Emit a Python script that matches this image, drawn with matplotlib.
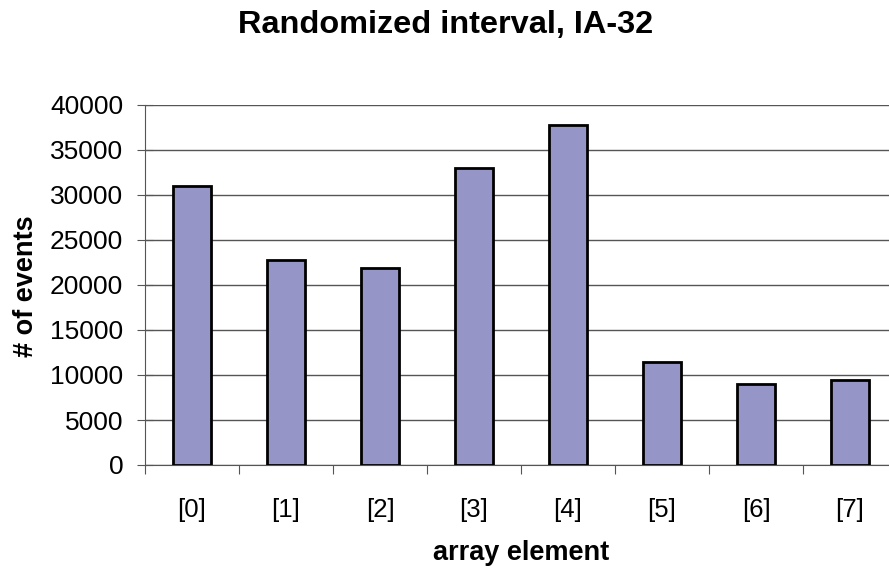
import matplotlib
matplotlib.use('Agg')
import matplotlib.pyplot as plt

# counts per array slot
elementos = ['[0]', '[1]', '[2]', '[3]', '[4]', '[5]', '[6]', '[7]']
eventos = [31000, 22800, 21900, 33000, 37800, 11500, 9000, 9400]
y_ticks = [0, 5000, 10000, 15000, 20000, 25000, 30000, 35000, 40000]

plt.rcParams['font.family'] = ['Liberation Sans', 'DejaVu Sans']

fig = plt.figure(figsize=(8.89, 5.68), dpi=100)
W, H = 889, 568
# plot area runs a bit past the right edge
ax = fig.add_axes([145 / W, 1 - 465 / H, 752 / W, 360 / H])

x = list(range(len(elementos)))
ax.bar(x, eventos, width=0.4, color='#9595C8', edgecolor='black', linewidth=2.0, zorder=3)

ax.set_xlim(-0.5, len(elementos) - 0.5)
ax.set_ylim(0, 40000)
ax.set_yticks(y_ticks)
ax.set_yticklabels([str(v) for v in y_ticks], fontsize=19)
ax.yaxis.grid(True, color='#555555', linewidth=1.0, zorder=0)

# ticks between categories, labels centered under bars
ax.set_xticks([i - 0.5 for i in x])
ax.set_xticklabels([])
ax.set_xticks(x, minor=True)
ax.set_xticklabels(elementos, minor=True, fontsize=18.5)
ax.tick_params(axis='x', which='minor', length=0, pad=24)
ax.tick_params(axis='x', which='major', direction='out', length=6.5, color='#555555')
ax.tick_params(axis='y', direction='inout', length=11.5, color='#555555', pad=10)

for s in ['top', 'right']:
    ax.spines[s].set_visible(False)
ax.spines['left'].set_color('#555555')
ax.spines['bottom'].set_color('#555555')

fig.text(445.5 / W, 1 - 33 / H, 'Randomized interval, IA-32', fontsize=23.4, fontweight='bold',
         ha='center', va='baseline')
fig.text(521 / W, 1 - 560 / H, 'array element', fontsize=19.5, fontweight='bold',
         ha='center', va='baseline')
fig.text(33 / W, 1 - 286 / H, '# of events', fontsize=19.5, fontweight='bold',
         ha='center', va='baseline', rotation=90, rotation_mode='anchor')

fig.savefig('out.png', dpi=100)
